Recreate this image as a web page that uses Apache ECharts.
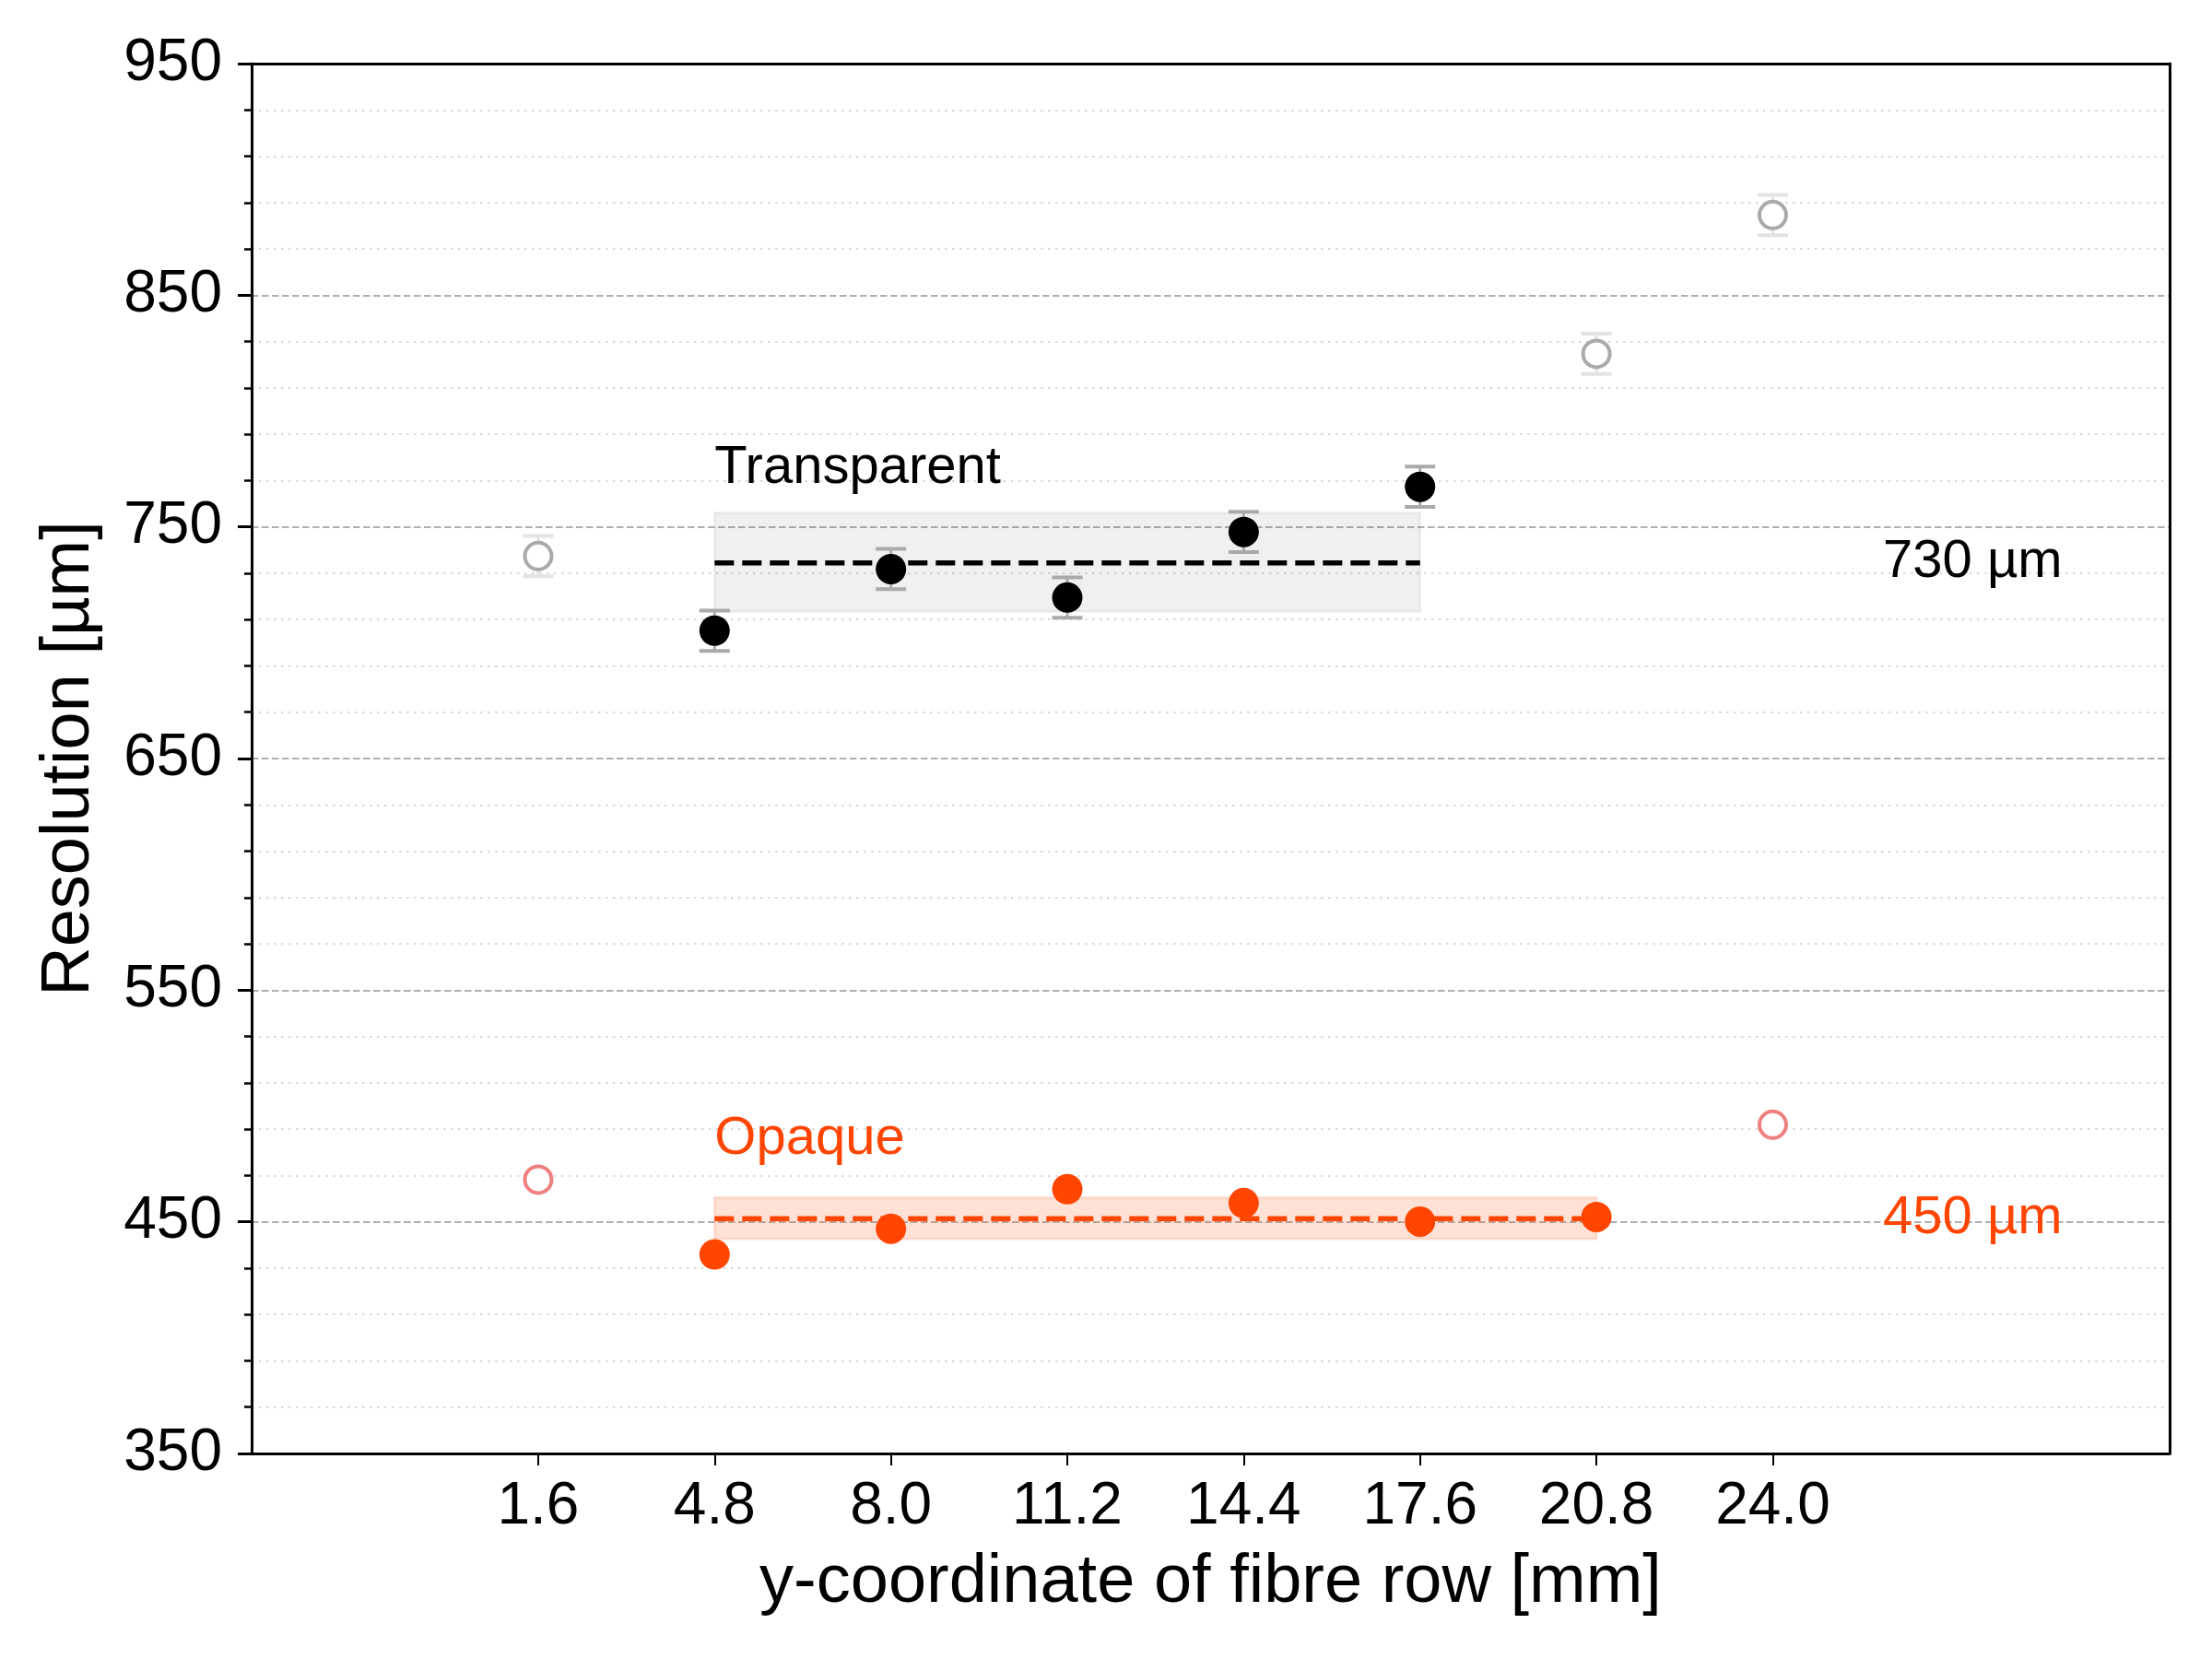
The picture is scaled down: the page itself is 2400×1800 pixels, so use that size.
<!DOCTYPE html>
<html>
<head>
<meta charset="utf-8">
<script src="https://cdn.jsdelivr.net/npm/echarts@6/dist/echarts.min.js"></script>
<style>html,body{margin:0;padding:0;background:#fff;}#chart{width:2400px;height:1800px;}</style>
</head>
<body>
<div id="chart"></div>
<script>
// ---- data ----
const xTicks = [1.6, 4.8, 8.0, 11.2, 14.4, 17.6, 20.8, 24.0];

const transparentX = [4.8, 8.0, 11.2, 14.4, 17.6];
const transparentY = [705.2, 731.8, 719.5, 747.8, 767.3];
const transparentErr = [8.7, 8.7, 8.7, 8.7, 8.7];

const transparentExclX = [1.6, 20.8, 24.0];
const transparentExclY = [737.4, 824.7, 884.6];
const transparentExclErr = [8.7, 8.7, 8.7];

const opaqueX = [4.8, 8.0, 11.2, 14.4, 17.6, 20.8];
const opaqueY = [435.9, 447.0, 464.1, 458.1, 450.1, 452.1];

const opaqueExclX = [1.6, 24.0];
const opaqueExclY = [468.2, 491.9];

const transparentMean = 734.4;
const transparentBand = [713.5, 756.0];
const transparentRange = [4.8, 17.6];
const opaqueMean = 451.4;
const opaqueBand = [442.6, 460.5];
const opaqueRange = [4.8, 20.8];

const labelTexts = ['Transparent', 'Opaque', '730 µm', '450 µm'];
const labelAnchorX = [4.8, 4.8, 26.0, 26.0];
const labelAnchorY = [775.5, 485.7, 734.7, 451.4];

// ---- styles ----
const FONT = "'Liberation Sans', Arial, Helvetica, sans-serif";
const BLACK = '#000000';
const ORANGE = '#ff4500';
const GRAY = '#aaaaaa';
const LIGHTRED = '#f08080';
const labelColors = [BLACK, ORANGE, BLACK, ORANGE];

const chart = echarts.init(document.getElementById('chart'), null, {renderer: 'canvas', width: 2400, height: 1800});

function pairs(xs, ys) { return xs.map((x, i) => [x, ys[i]]); }

function errorBars(xs, ys, errs, color, lineW, capW, capH, z) {
  return {
    type: 'custom',
    silent: true,
    z: z,
    renderItem: function (params, api) {
      const x = api.value(0), y = api.value(1), e = api.value(2);
      const t = api.coord([x, y + e]);
      const b = api.coord([x, y - e]);
      const h = capW / 2;
      return {
        type: 'group',
        children: [
          {type: 'line', shape: {x1: t[0], y1: t[1], x2: b[0], y2: b[1]}, style: {stroke: color, lineWidth: lineW}},
          {type: 'line', shape: {x1: t[0] - h, y1: t[1], x2: t[0] + h, y2: t[1]}, style: {stroke: color, lineWidth: capH}},
          {type: 'line', shape: {x1: b[0] - h, y1: b[1], x2: b[0] + h, y2: b[1]}, style: {stroke: color, lineWidth: capH}}
        ]
      };
    },
    encode: {x: 0, y: 1},
    data: xs.map((x, i) => [x, ys[i], errs[i]])
  };
}

function meanLine(range, mean, band, color, fill, border) {
  return {
    type: 'line',
    silent: true,
    z: 2,
    symbol: 'none',
    data: [[range[0], mean], [range[1], mean]],
    lineStyle: {color: color, width: 5.5, type: [21, 9]},
    markArea: {
      silent: true,
      itemStyle: {color: fill, borderColor: border, borderWidth: 3},
      data: [[{xAxis: range[0], yAxis: band[0]}, {xAxis: range[1], yAxis: band[1]}]]
    }
  };
}

const textSeries = {
  type: 'custom',
  silent: true,
  z: 6,
  renderItem: function (params, api) {
    const i = params.dataIndex;
    const p = api.coord([api.value(0), api.value(1)]);
    return {
      type: 'text',
      x: p[0], y: p[1],
      style: {
        text: labelTexts[i],
        fill: labelColors[i],
        font: '58px ' + FONT,
        align: 'left',
        verticalAlign: 'middle'
      }
    };
  },
  encode: {x: 0, y: 1},
  data: pairs(labelAnchorX, labelAnchorY)
};

const frameAxis = {
  axisLine: {show: true, onZero: false, lineStyle: {color: BLACK, width: 3}},
  axisTick: {show: false}, axisLabel: {show: false}, splitLine: {show: false}
};

const option = {
  animation: false,
  backgroundColor: '#ffffff',
  grid: {
    left: 273, right: 46, top: 69, bottom: 223,
    containLabel: false, outerBoundsMode: 'none', show: false
  },
  xAxis: [{
    type: 'value',
    min: -3.6, max: 31.2,
    name: 'y-coordinate of fibre row [mm]',
    nameLocation: 'middle', nameGap: 104,
    nameTextStyle: {fontFamily: FONT, fontSize: 74, color: BLACK},
    axisLine: {show: true, onZero: false, lineStyle: {color: BLACK, width: 3}},
    axisTick: {show: true, inside: false, length: 13, lineStyle: {color: BLACK, width: 2}, customValues: xTicks},
    axisLabel: {show: true, customValues: xTicks, margin: 26, fontFamily: FONT, fontSize: 64, color: BLACK,
      formatter: function (v) { return Number(v).toFixed(1); }},
    splitLine: {show: false},
    minorTick: {show: false}
  }, Object.assign({type: 'value', position: 'top', min: -3.6, max: 31.2, z: 10}, frameAxis)],
  yAxis: [{
    type: 'value',
    min: 350, max: 950, interval: 100,
    name: 'Resolution [µm]',
    nameLocation: 'middle', nameGap: 160, nameRotate: 90,
    nameTextStyle: {fontFamily: FONT, fontSize: 74, color: BLACK},
    axisLine: {show: true, onZero: false, lineStyle: {color: BLACK, width: 3}},
    axisTick: {show: true, inside: false, length: 15, lineStyle: {color: BLACK, width: 3}},
    minorTick: {show: true, splitNumber: 5, length: 8, lineStyle: {color: BLACK, width: 2.5}},
    axisLabel: {show: true, margin: 32, fontFamily: FONT, fontSize: 64, color: BLACK},
    splitLine: {show: true, lineStyle: {color: '#b0b0b0', width: 2, type: [7.5, 3.5]}},
    minorSplitLine: {show: true, lineStyle: {color: '#d9d9d9', width: 2, type: [2.5, 5.5]}}
  }, Object.assign({type: 'value', position: 'right', min: 350, max: 950, z: 10}, frameAxis)],
  series: [
    meanLine(transparentRange, transparentMean, transparentBand, BLACK, 'rgba(0,0,0,0.06)', 'rgba(0,0,0,0.05)'),
    meanLine(opaqueRange, opaqueMean, opaqueBand, ORANGE, 'rgba(255,69,0,0.16)', 'rgba(255,69,0,0.12)'),
    errorBars(transparentExclX, transparentExclY, transparentExclErr, '#e3e3e3', 3, 33, 4, 3),
    errorBars(transparentX, transparentY, transparentErr, '#aaaaaa', 3, 33, 4, 3),
    {
      type: 'scatter', silent: true, z: 4, symbol: 'circle', symbolSize: 29,
      data: pairs(transparentExclX, transparentExclY),
      itemStyle: {color: '#ffffff', borderColor: GRAY, borderWidth: 4, opacity: 1}
    },
    {
      type: 'scatter', silent: true, z: 4, symbol: 'circle', symbolSize: 29,
      data: pairs(opaqueExclX, opaqueExclY),
      itemStyle: {color: '#ffffff', borderColor: LIGHTRED, borderWidth: 4, opacity: 1}
    },
    {
      type: 'scatter', silent: true, z: 5, symbol: 'circle', symbolSize: 33,
      data: pairs(transparentX, transparentY),
      itemStyle: {color: BLACK, opacity: 1}
    },
    {
      type: 'scatter', silent: true, z: 5, symbol: 'circle', symbolSize: 33,
      data: pairs(opaqueX, opaqueY),
      itemStyle: {color: ORANGE, opacity: 1}
    },
    textSeries
  ]
};
chart.setOption(option);
</script>
</body>
</html>
